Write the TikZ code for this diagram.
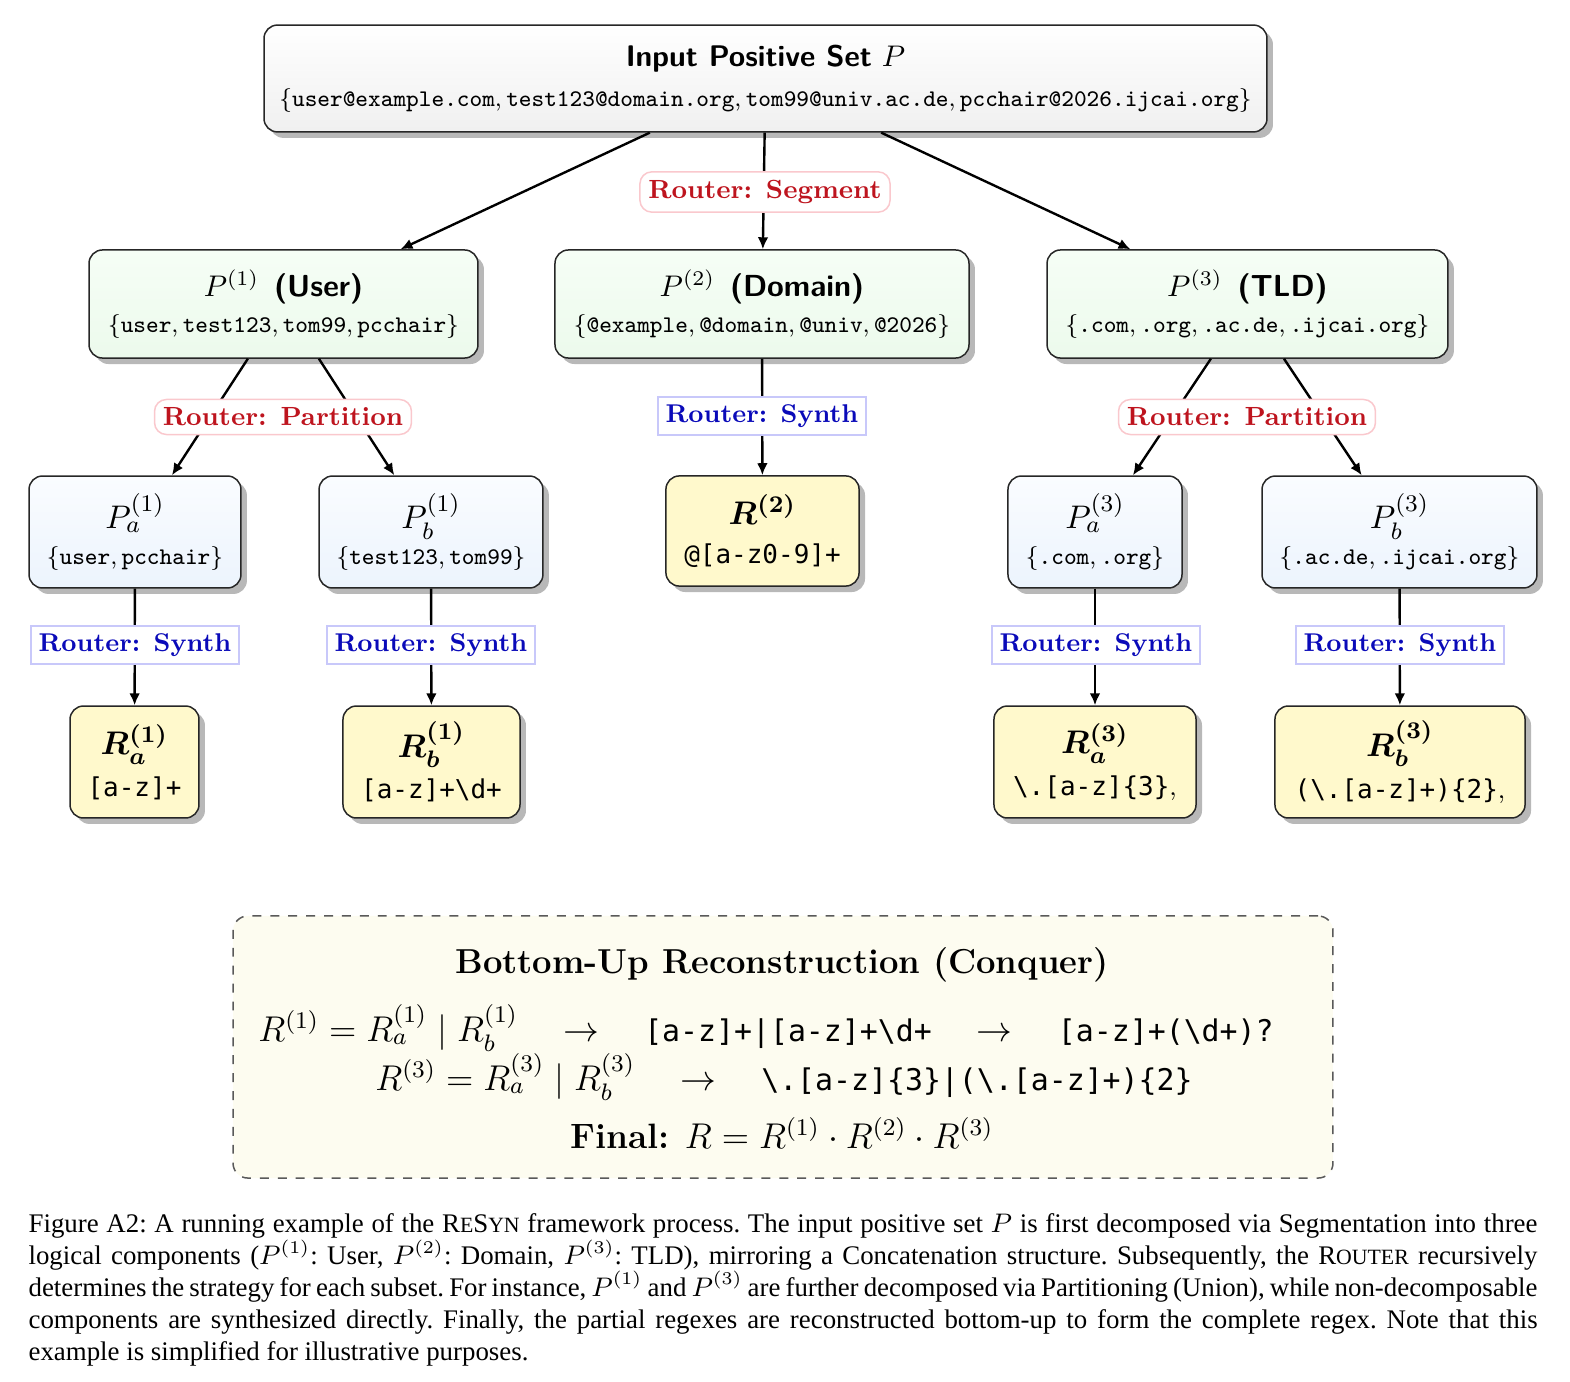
\documentclass[tikz,border=0pt]{standalone}
\usepackage{amsmath}
\usepackage{fontspec}
\usetikzlibrary{shadows,arrows.meta}
\newfontfamily\capfont{Liberation Serif}
\newfontfamily\rxfont{DejaVu Sans Mono}
\newcommand{\fsc}[1]{{\fontsize{7.3}{10.7}\selectfont #1}}
\definecolor{segred}{RGB}{190,20,30}
\definecolor{segbd}{RGB}{250,200,205}
\definecolor{synblue}{RGB}{10,10,185}
\definecolor{synbd}{RGB}{200,200,250}
\definecolor{ryel}{RGB}{255,249,204}
\definecolor{recfill}{RGB}{253,252,240}
\definecolor{bluetop}{RGB}{250,252,255}
\definecolor{bluebot}{RGB}{236,244,253}
\definecolor{greentop}{RGB}{246,254,246}
\definecolor{greenbot}{RGB}{236,250,236}
\tikzset{
  box/.style={draw=black!85, line width=0.5pt, rounded corners=4.5pt, align=center, inner sep=0pt,
    drop shadow={shadow xshift=2pt, shadow yshift=-2pt, fill=black!28, opacity=1}},
  topbox/.style={box, top color=white, bottom color=gray!12},
  lvone/.style={box, top color=greentop, bottom color=greenbot, minimum height=36.2pt},
  lvtwo/.style={box, top color=bluetop, bottom color=bluebot, minimum height=37.5pt},
  rbox/.style={box, fill=ryel, minimum height=37.5pt},
  arr/.style={-{Latex[length=4pt,width=3.6pt]}, line width=0.8pt},
  seglab/.style={draw=segbd, fill=white, line width=0.5pt, rounded corners=4pt, text=segred,
    font=\fontsize{8.8}{11}\bfseries, inner sep=2.8pt},
  synlab/.style={draw=synbd, fill=white, line width=0.8pt, text=synblue,
    font=\fontsize{8.6}{11}\bfseries, inner sep=2.6pt}
}
\begin{document}
\begin{tikzpicture}[x=0.335pt, y=-0.335pt]
\useasboundingbox (0,0) rectangle (1570,1382);
% top box
\node[topbox, minimum width=336pt, minimum height=35.8pt] (top) at (765.5,78.5)
  {{\fontsize{10}{12}\selectfont\sffamily\bfseries Input Positive Set} {\fontsize{10}{12}\selectfont$P$}\\[1.5pt]
   {\fontsize{8}{10}\selectfont$\{\texttt{user@example.com}, \texttt{test123@domain.org}, \texttt{tom99@univ.ac.de}, \texttt{pcchair@2026.ijcai.org}\}$}};
% level 1
\node[lvone, minimum width=130.3pt] (P1) at (283.5,304)
  {{\fontsize{10.2}{12}\selectfont$P^{(1)}$\hspace{5pt}\sffamily\bfseries (User)}\\[0pt]
   {\fontsize{8}{10}\selectfont$\{\texttt{user}, \texttt{test123}, \texttt{tom99}, \texttt{pcchair}\}$}};
\node[lvone, minimum width=138.7pt] (P2) at (762,304)
  {{\fontsize{10.2}{12}\selectfont$P^{(2)}$\hspace{5pt}\sffamily\bfseries (Domain)}\\[0pt]
   {\fontsize{8}{10}\selectfont$\{\texttt{@example}, \texttt{@domain}, \texttt{@univ}, \texttt{@2026}\}$}};
\node[lvone, minimum width=134.3pt] (P3) at (1247.5,304)
  {{\fontsize{10.2}{12}\selectfont$P^{(3)}$\hspace{5pt}\sffamily\bfseries (TLD)}\\[0pt]
   {\fontsize{8}{10}\selectfont$\{\texttt{.com}, \texttt{.org}, \texttt{.ac.de}, \texttt{.ijcai.org}\}$}};
% level 2
\node[lvtwo, minimum width=71pt] (Pa1) at (135,532)
  {{\fontsize{11}{13}\selectfont$P^{(1)}_a$}\\[0pt]
   {\fontsize{8}{10}\selectfont$\{\texttt{user}, \texttt{pcchair}\}$}};
\node[lvtwo, minimum width=75pt] (Pb1) at (431,532)
  {{\fontsize{11}{13}\selectfont$P^{(1)}_b$}\\[0pt]
   {\fontsize{8}{10}\selectfont$\{\texttt{test123}, \texttt{tom99}\}$}};
\node[rbox, minimum width=64.7pt, minimum height=36.9pt] (R2) at (762.5,531)
  {{\fontsize{11}{13}\selectfont$\boldsymbol{R^{(2)}}$}\\[1pt]
   {\rxfont\fontsize{8.7}{10}\selectfont @[a-z0-9]+}};
\node[lvtwo, minimum width=58.3pt] (Pa3) at (1095,532)
  {{\fontsize{11}{13}\selectfont$P^{(3)}_a$}\\[0pt]
   {\fontsize{8}{10}\selectfont$\{\texttt{.com}, \texttt{.org}\}$}};
\node[lvtwo, minimum width=92.1pt] (Pb3) at (1399.5,532)
  {{\fontsize{11}{13}\selectfont$P^{(3)}_b$}\\[0pt]
   {\fontsize{8}{10}\selectfont$\{\texttt{.ac.de}, \texttt{.ijcai.org}\}$}};
% regex leaves
\node[rbox, minimum width=43.2pt] (Ra1) at (134.5,762)
  {{\fontsize{11}{13}\selectfont$\boldsymbol{R^{(1)}_a}$}\\[2pt]
   {\rxfont\fontsize{8.7}{10}\selectfont [a-z]+}};
\node[rbox, minimum width=59.3pt] (Rb1) at (431.5,762)
  {{\fontsize{11}{13}\selectfont$\boldsymbol{R^{(1)}_b}$}\\[2pt]
   {\rxfont\fontsize{8.7}{10}\selectfont [a-z]+\textbackslash d+}};
\node[rbox, minimum width=67.7pt] (Ra3) at (1095,762)
  {{\fontsize{11}{13}\selectfont$\boldsymbol{R^{(3)}_a}$}\\[2pt]
   {\rxfont\fontsize{8.7}{10}\selectfont \textbackslash.[a-z]\{3\}}{\fontsize{8.7}{10}\selectfont,}};
\node[rbox, minimum width=83.8pt] (Rb3) at (1400,762)
  {{\fontsize{11}{13}\selectfont$\boldsymbol{R^{(3)}_b}$}\\[2pt]
   {\rxfont\fontsize{8.7}{10}\selectfont (\textbackslash.[a-z]+)\{2\}}{\fontsize{8.7}{10}\selectfont,}};
% connectors
\draw[arr] (top) -- (P1);
\draw[arr] (top) -- (P2);
\draw[arr] (top) -- (P3);
\draw[arr] (P1) -- (Pa1);
\draw[arr] (P1) -- (Pb1);
\draw[arr] (P2) -- (R2);
\draw[arr] (P3) -- (Pa3);
\draw[arr] (P3) -- (Pb3);
\draw[arr] (Pa1) -- (Ra1);
\draw[arr] (Pb1) -- (Rb1);
\draw[arr] (Pa3) -- (Ra3);
\draw[arr] (Pb3) -- (Rb3);
% router labels
\node[seglab] (lseg) at (765,192) {Router: Segment};
\node[seglab] (lpart1) at (283,417) {Router: Partition};
\node[seglab] (lpart3) at (1247,417) {Router: Partition};
\node[synlab] (lsyn2) at (762,416) {Router: Synth};
\node[synlab] (lsyna1) at (135,645) {Router: Synth};
\node[synlab] (lsynb1) at (431,645) {Router: Synth};
\node[synlab] (lsyna3) at (1096,645) {Router: Synth};
\node[synlab] (lsynb3) at (1400,645) {Router: Synth};
% reconstruction box
\node[draw=black!65, dashed, line width=0.5pt, rounded corners=5pt, fill=recfill,
  minimum width=368.5pt, minimum height=87.8pt] (recon) at (783,1047) {};
\node[font=\fontsize{11.6}{14}\bfseries] (rtitle) at (782,965) {Bottom-Up Reconstruction (Conquer)};
\node[font=\fontsize{11.8}{14}\selectfont] (eqa) at (766,1028)
  {$R^{(1)} = R^{(1)}_a \mid R^{(1)}_b \quad\to\quad \text{\rxfont\fontsize{10}{12}\selectfont [a-z]+|[a-z]+\textbackslash d+} \quad\to\quad \text{\rxfont\fontsize{10}{12}\selectfont [a-z]+(\textbackslash d+)?}$};
\node[font=\fontsize{11.8}{14}\selectfont] (eqb) at (784,1077)
  {$R^{(3)} = R^{(3)}_a \mid R^{(3)}_b \quad\to\quad \text{\rxfont\fontsize{10}{12}\selectfont \textbackslash.[a-z]\{3\}|(\textbackslash.[a-z]+)\{2\}}$};
\node[font=\fontsize{11.8}{14}\selectfont] (eqc) at (782,1133)
  {\textbf{Final:} $R = R^{(1)} \cdot R^{(2)} \cdot R^{(3)}$};
% caption
\node[anchor=north west, inner sep=0pt, text width=505.5pt, align=justify,
  font=\capfont\fontsize{9}{10.7}\selectfont\frenchspacing] (cap) at (28,1213)
  {Figure A2: A running example of the R\fsc{E}S\fsc{YN} framework process. The input positive set $P$ is first decomposed via Segmentation into three logical components ($P^{(1)}$: User, $P^{(2)}$: Domain, $P^{(3)}$: TLD), mirroring a Concatenation structure. Subsequently, the R\fsc{OUTER} recursively determines the strategy for each subset. For instance, $P^{(1)}$ and $P^{(3)}$ are further decomposed via Partitioning (Union), while non-decomposable components are synthesized directly. Finally, the partial regexes are reconstructed bottom-up to form the complete regex. Note that this\linebreak{} example is simplified for illustrative purposes.};
\end{tikzpicture}
\end{document}
